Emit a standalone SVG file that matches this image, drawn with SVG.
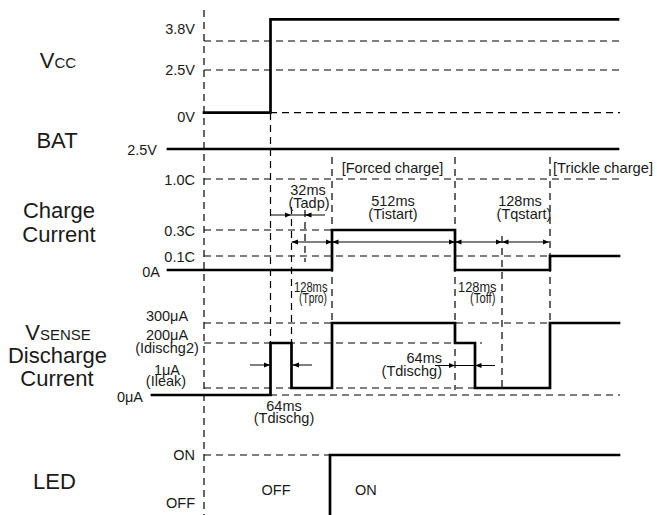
<svg xmlns="http://www.w3.org/2000/svg" width="657" height="515" viewBox="0 0 657 515">
<style>
.th{stroke:#000;stroke-width:2.7;fill:none;stroke-linejoin:miter;stroke-linecap:square}
.dh{stroke:#000;stroke-width:1.2;stroke-dasharray:7 5;fill:none}
.ar{stroke:#000;stroke-width:1;fill:none}
text{font-family:"Liberation Sans",Arial,Helvetica,sans-serif;fill:#1a1a1a}
.big{font-size:22px}
.sm{font-size:14.5px}
.cn{font-size:14px}
.e{text-anchor:end}
.m{text-anchor:middle}
</style>
<defs>
<marker id="ah" viewBox="0 0 10 10" refX="10" refY="5" markerWidth="6.5" markerHeight="6.5" markerUnits="userSpaceOnUse" orient="auto-start-reverse">
<path d="M0,1 L10,5 L0,9 z" fill="#000"/>
</marker>
</defs>

<g id="grid">
<path class="dh" d="M204,10 V515 M270.5,113 V343 M291.5,207 V343 M305,210 V262 M332,157 V323 M455,157 V390 M502,236 V388 M550,157 V323"/>
<path class="dh" d="M204,41 H620 M204,70 H620 M270,112.7 H620 M204,179 H620 M204,230 H332 M204,256 H550 M204,323 H620 M204,343 H482 M204,388 H475 M270,395 H620 M204,455 H330"/>
</g>

<g id="labels">
<text class="big m" x="58" y="68">V<tspan font-size="15">CC</tspan></text>
<text class="big m" x="57" y="148">BAT</text>
<text class="big m" x="59" y="218">Charge</text>
<text class="big m" x="59" y="242">Current</text>
<text class="big m" x="58" y="340">V<tspan font-size="15">SENSE</tspan></text>
<text class="big m" x="57.5" y="363">Discharge</text>
<text class="big m" x="57" y="386">Current</text>
<text class="big" x="33" y="489" font-size="20">LED</text>
</g>

<g id="vcc">
<path class="th" d="M204,112.7 H270.5 V19.3 H618"/>
<text class="sm e" x="195" y="34">3.8V</text>
<text class="sm e" x="195" y="75">2.5V</text>
<text class="sm e" x="195" y="122">0V</text>
</g>

<g id="bat">
<path class="th" d="M168,149 H618"/>
<text class="sm e" x="157" y="155">2.5V</text>
</g>

<g id="charge">
<path class="th" d="M168,270 H332 V230 H455 V270 H550 V256 H619"/>
<text class="sm e" x="195" y="185">1.0C</text>
<text class="sm e" x="195" y="236">0.3C</text>
<text class="sm e" x="195" y="261.5">0.1C</text>
<text class="sm e" x="160" y="276.5">0A</text>
<text class="sm" x="341.7" y="172.5">[Forced charge]</text>
<text class="sm" x="553" y="172.5" textLength="100" lengthAdjust="spacingAndGlyphs">[Trickle charge]</text>
<text class="sm m" x="308" y="195">32ms</text>
<text class="sm m" x="309" y="207.5">(Tadp)</text>
<text class="sm m" x="393" y="206">512ms</text>
<text class="sm m" x="393" y="218.5">(Tistart)</text>
<text class="sm m" x="520" y="206">128ms</text>
<text class="sm m" x="524" y="218.5">(Tqstart)</text>
<text class="cn" x="294" y="291.5" textLength="33.5" lengthAdjust="spacingAndGlyphs">128ms</text>
<text class="cn" x="299" y="303" textLength="28" lengthAdjust="spacingAndGlyphs">(Tpro)</text>
<text class="cn" x="458" y="291.5" textLength="38.5" lengthAdjust="spacingAndGlyphs">128ms</text>
<text class="cn" x="470" y="303" textLength="25.5" lengthAdjust="spacingAndGlyphs">(Toff)</text>
</g>

<g id="discharge">
<path class="th" d="M152,395 H270.5 V343 H291.5 V388 H332 V323 H455 V343 H475 V388 H550 V323 H619"/>
<text class="sm m" x="167" y="320.5">300μA</text>
<text class="sm m" x="167" y="339.5">200μA</text>
<text class="sm m" x="167" y="352.5">(Idischg2)</text>
<text class="sm m" x="167" y="374.5">1μA</text>
<text class="sm m" x="166" y="386">(Ileak)</text>
<text class="sm e" x="143" y="401.5">0μA</text>
<text class="sm m" x="284" y="411">64ms</text>
<text class="sm m" x="284" y="423">(Tdischg)</text>
<text class="sm e" x="442" y="363">64ms</text>
<text class="sm e" x="442" y="375.5">(Tdischg)</text>
</g>

<g id="led">
<path class="th" d="M330,515 V455 H619"/>
<text class="sm e" x="195" y="460">ON</text>
<text class="sm e" x="195" y="508">OFF</text>
<text class="sm m" x="276" y="495">OFF</text>
<text class="sm" x="355" y="495">ON</text>
</g>

<g id="connectors">
<line class="ar" x1="271" y1="215" x2="291" y2="215" marker-end="url(#ah)"/>
<line class="ar" x1="291" y1="215" x2="305" y2="215"/>
<line class="ar" x1="325" y1="215" x2="305" y2="215" marker-end="url(#ah)"/>
<line class="ar" x1="291.5" y1="242" x2="332" y2="242" marker-start="url(#ah)" marker-end="url(#ah)"/>
<line class="ar" x1="332" y1="242" x2="455" y2="242" marker-start="url(#ah)" marker-end="url(#ah)"/>
<line class="ar" x1="455" y1="242" x2="502" y2="242" marker-start="url(#ah)" marker-end="url(#ah)"/>
<line class="ar" x1="502" y1="242" x2="549" y2="242" marker-start="url(#ah)" marker-end="url(#ah)"/>
<line class="ar" x1="250" y1="365" x2="270" y2="365" marker-end="url(#ah)"/>
<line class="ar" x1="312" y1="365" x2="292.5" y2="365" marker-end="url(#ah)"/>
<line class="ar" x1="435" y1="365.5" x2="455" y2="365.5" marker-end="url(#ah)"/>
<line class="ar" x1="455" y1="365.5" x2="475" y2="365.5"/>
<line class="ar" x1="495" y1="365.5" x2="475" y2="365.5" marker-end="url(#ah)"/>
</g>
</svg>
